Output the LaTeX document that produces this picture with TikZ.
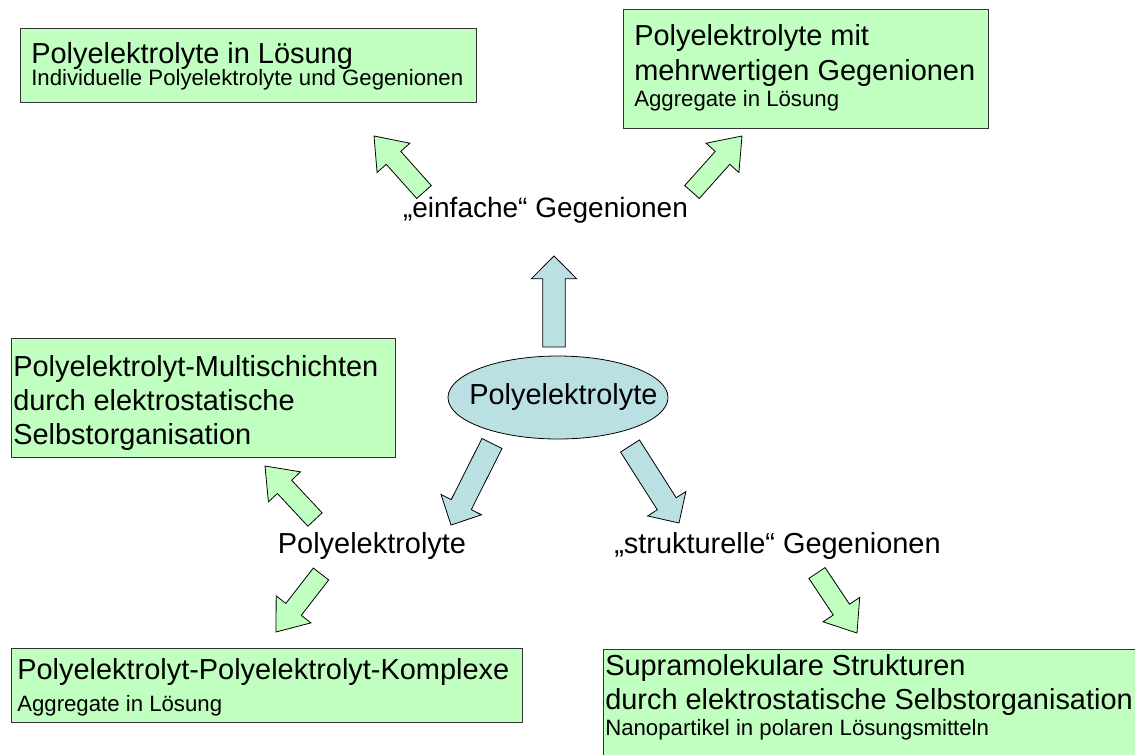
\documentclass[tikz,border=0pt]{standalone}
\usepackage{fontspec}
\setmainfont{Liberation Sans}
\usetikzlibrary{calc,shapes.geometric}
\definecolor{boxgreen}{RGB}{192,255,192}
\definecolor{ellblue}{RGB}{187,224,228}
\definecolor{boxline}{RGB}{51,51,51}
\newcommand{\px}{0.75pt}
\newcommand{\bigf}{\fontsize{21.7pt}{25.5pt}\selectfont}
\newcommand{\smallf}{\fontsize{16.65pt}{25.5pt}\selectfont}
\newcommand{\blockarrow}[6]{%
  \coordinate (neck) at ($(#2)!#6!(#3)$);
  \draw[#1] ($(#2)!#4!90:(#3)$) -- ($(neck)!#4!90:(#3)$) -- ($(neck)!#5!90:(#3)$)
    -- (#3) -- ($(neck)!#5!-90:(#3)$) -- ($(neck)!#4!-90:(#3)$) -- ($(#2)!#4!-90:(#3)$) -- cycle;}
\newcommand{\greenarrow}[2]{\blockarrow{greenarr}{#1}{#2}{7.3pt}{16.5pt}{0.61}}
\newcommand{\bluearrow}[2]{\blockarrow{bluearr}{#1}{#2}{8.4pt}{17pt}{0.75}}
\begin{document}
\begin{tikzpicture}[
    x=0.75pt, y=-0.75pt,
    box/.style={draw=boxline, fill=boxgreen, line width=1pt, anchor=north west, inner sep=0},
    boxtext/.style={anchor=north west, align=left, inner sep=0, font=\bigf},
    label/.style={font=\bigf, inner sep=0},
    greenarr/.style={draw=black, fill=boxgreen, line width=0.6pt},
    bluearr/.style={draw=black, fill=ellblue, line width=0.6pt}
]
\useasboundingbox (0,0) rectangle (1135,754);
\clip (0,0) rectangle (1135,754);

\node[box, minimum width=456*\px, minimum height=74*\px] (loesung) at (20,28) {};
\node[boxtext] (loesung-t) at ($(loesung.north west)+(11,14)$)
    {Polyelektrolyte in Lösung\\[-9pt]{\smallf Individuelle Polyelektrolyte und Gegenionen}};

\node[box, minimum width=365*\px, minimum height=119*\px] (mehrw) at (623,9) {};
\node[boxtext] (mehrw-t) at ($(mehrw.north west)+(11,15)$)
    {Polyelektrolyte mit\\[0.75pt]mehrwertigen Gegenionen\\[-6pt]{\smallf Aggregate in Lösung}};

\node[box, minimum width=384*\px, minimum height=119*\px] (multi) at (11,338) {};
\node[boxtext] (multi-t) at ($(multi.north west)+(2,17)$)
    {Polyelektrolyt-Multischichten\\durch elektrostatische\\Selbstorganisation};

\node[box, minimum width=511*\px, minimum height=74*\px] (kompl) at (11,648) {};
\node[boxtext] (kompl-t) at ($(kompl.north west)+(6,10)$)
    {Polyelektrolyt-Polyelektrolyt-Komplexe\\[-1.5pt]{\smallf Aggregate in Lösung}};

\node[box, minimum width=600*\px, minimum height=200*\px] (supra) at (603,649) {};
\node[boxtext] (supra-t) at ($(supra.north west)+(2,5)$)
    {Supramolekulare Strukturen\\durch elektrostatische Selbstorganisation\\[-6pt]{\smallf Nanopartikel in polaren Lösungsmitteln}};

\node[ellipse, draw, fill=ellblue, line width=0.6pt, minimum width=220*\px, minimum height=83*\px,
    inner sep=0, font=\bigf] (root) at (558,397.5) {\makebox[0pt]{\hspace*{8pt}Polyelektrolyte}};

\node[label, anchor=base, font=\fontsize{21pt}{25pt}\selectfont] (einfach) at (545.5,217.5) {„einfache“ Gegenionen};
\node[label, anchor=base] (polyel) at (372,553) {Polyelektrolyte};
\node[label, anchor=base west] (strukt) at (614,553) {„strukturelle“ Gegenionen};

\coordinate (up-a) at (554,347);
\coordinate (up-b) at (554,256);
\coordinate (ll-a) at (492,443.5);
\coordinate (ll-b) at (451,525);
\coordinate (lr-a) at (630,446);
\coordinate (lr-b) at (679,523);
\bluearrow{up-a}{up-b}
\bluearrow{ll-a}{ll-b}
\bluearrow{lr-a}{lr-b}

\coordinate (e1-a) at (424,192);
\coordinate (e1-b) at (374,136);
\coordinate (e2-a) at (692,192);
\coordinate (e2-b) at (742,136);
\coordinate (p1-a) at (315,519.5);
\coordinate (p1-b) at (265,466);
\coordinate (p2-a) at (321,574);
\coordinate (p2-b) at (276,632);
\coordinate (s1-a) at (817,573);
\coordinate (s1-b) at (857,633);
\greenarrow{e1-a}{e1-b}
\greenarrow{e2-a}{e2-b}
\greenarrow{p1-a}{p1-b}
\greenarrow{p2-a}{p2-b}
\greenarrow{s1-a}{s1-b}
\end{tikzpicture}
\end{document}
